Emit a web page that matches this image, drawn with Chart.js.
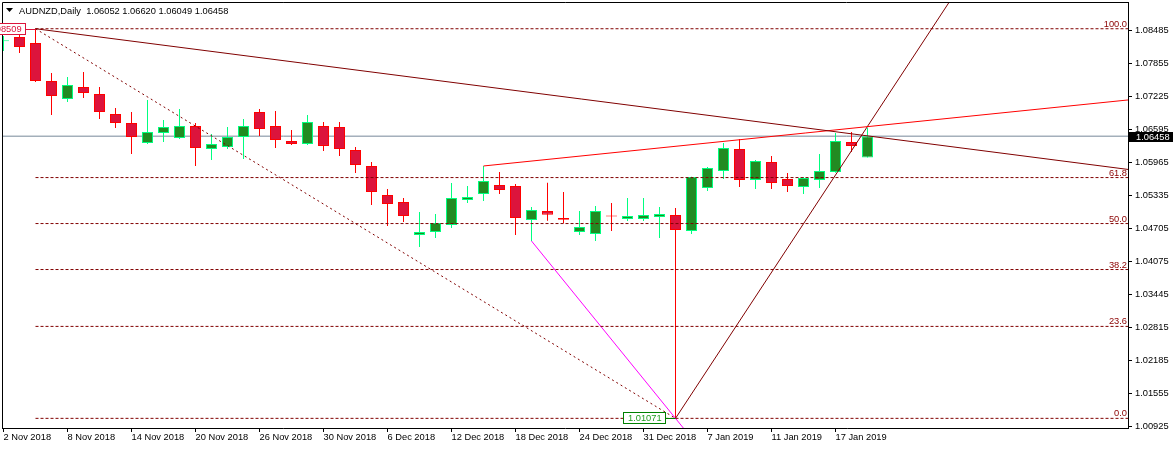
<!DOCTYPE html>
<html>
<head>
<meta charset="utf-8">
<title>AUDNZD,Daily</title>
<script src="https://cdn.jsdelivr.net/npm/chart.js@4.4.1/dist/chart.umd.min.js"></script>
<style>
html, body { margin: 0; padding: 0; background: #fff; }
#box-chart { width: 1175px; height: 449px; }
</style>
</head>
<body>
<div id="box-chart"><canvas id="CandleChart" width="1175" height="449"></canvas></div>
<script>
var symbolName = "AUDNZD,Daily";

// one bar per trading day
var dates = ["2 Nov 2018", "5 Nov 2018", "6 Nov 2018", "7 Nov 2018", "8 Nov 2018", "9 Nov 2018",
    "12 Nov 2018", "13 Nov 2018", "14 Nov 2018", "15 Nov 2018", "16 Nov 2018",
    "19 Nov 2018", "20 Nov 2018", "21 Nov 2018", "22 Nov 2018", "23 Nov 2018",
    "26 Nov 2018", "27 Nov 2018", "28 Nov 2018", "29 Nov 2018", "30 Nov 2018",
    "3 Dec 2018", "4 Dec 2018", "5 Dec 2018", "6 Dec 2018", "7 Dec 2018",
    "10 Dec 2018", "11 Dec 2018", "12 Dec 2018", "13 Dec 2018", "14 Dec 2018",
    "17 Dec 2018", "18 Dec 2018", "19 Dec 2018", "20 Dec 2018", "21 Dec 2018",
    "24 Dec 2018", "26 Dec 2018", "27 Dec 2018", "28 Dec 2018", "31 Dec 2018",
    "2 Jan 2019", "3 Jan 2019", "4 Jan 2019",
    "7 Jan 2019", "8 Jan 2019", "9 Jan 2019", "10 Jan 2019", "11 Jan 2019",
    "14 Jan 2019", "15 Jan 2019", "16 Jan 2019", "17 Jan 2019", "18 Jan 2019",
    "21 Jan 2019"];

var opens = [1.08270, 1.08351, 1.08237, 1.07511, 1.07168, 1.07397,
    1.07263, 1.06881, 1.06710, 1.06328, 1.06519,
    1.06423, 1.06652, 1.06213, 1.06251, 1.06442,
    1.06920, 1.06652, 1.06366, 1.06309, 1.06652,
    1.06633, 1.06194, 1.05889, 1.05335, 1.05201,
    1.04571, 1.04629, 1.04762, 1.05240, 1.05354,
    1.05526, 1.05507, 1.04858, 1.05030, 1.04896,
    1.04629, 1.04590, 1.04934, 1.04877, 1.04877,
    1.04915, 1.04953, 1.04648,
    1.05469, 1.05793, 1.06213, 1.05621, 1.05965,
    1.05640, 1.05488, 1.05621, 1.05774, 1.06347,
    1.06052];

var highs = [1.08370, 1.08390, 1.08509, 1.07664, 1.07588, 1.07683,
    1.07397, 1.06996, 1.06920, 1.07149, 1.06767,
    1.06977, 1.06710, 1.06500, 1.06633, 1.06786,
    1.06977, 1.06939, 1.06576, 1.06862, 1.06729,
    1.06729, 1.06251, 1.05965, 1.05450, 1.05278,
    1.05010, 1.04972, 1.05564, 1.05507, 1.05889,
    1.05774, 1.05545, 1.05106, 1.05570, 1.05392,
    1.05030, 1.05125, 1.05182, 1.05278, 1.05278,
    1.05106, 1.05087, 1.05685,
    1.05870, 1.06328, 1.06404, 1.06003, 1.06080,
    1.05755, 1.05679, 1.06118, 1.06519, 1.06538,
    1.06620];

var lows = [1.08084, 1.08046, 1.07492, 1.06862, 1.07110, 1.07187,
    1.06786, 1.06614, 1.06118, 1.06309, 1.06347,
    1.06404, 1.05889, 1.06003, 1.06213, 1.06022,
    1.06461, 1.06232, 1.06290, 1.06290, 1.06175,
    1.06080, 1.05755, 1.05144, 1.04743, 1.04820,
    1.04342, 1.04514, 1.04705, 1.05182, 1.05220,
    1.05354, 1.04571, 1.04457, 1.04844, 1.04795,
    1.04571, 1.04457, 1.04648, 1.04839, 1.04839,
    1.04514, 1.01071, 1.04590,
    1.05411, 1.05640, 1.05488, 1.05450, 1.05450,
    1.05392, 1.05354, 1.05469, 1.05760, 1.06156,
    1.06049];

var closes = [1.08280, 1.08160, 1.07511, 1.07225, 1.07435, 1.07282,
    1.06920, 1.06710, 1.06442, 1.06538, 1.06633,
    1.06652, 1.06232, 1.06309, 1.06442, 1.06652,
    1.06595, 1.06385, 1.06309, 1.06729, 1.06271,
    1.06213, 1.05908, 1.05392, 1.05163, 1.04934,
    1.04629, 1.04801, 1.05278, 1.05297, 1.05602,
    1.05430, 1.04896, 1.05049, 1.04959, 1.04863,
    1.04724, 1.05030, 1.04924, 1.04934, 1.04953,
    1.04972, 1.04667, 1.05679,
    1.05850, 1.06232, 1.05621, 1.05984, 1.05564,
    1.05507, 1.05660, 1.05793, 1.06366, 1.06271,
    1.06458];

var priceTicks = [1.00925, 1.01555, 1.02185, 1.02815, 1.03445, 1.04075, 1.04705,
    1.05335, 1.05965, 1.06595, 1.07225, 1.07855, 1.08485];
var dateTickBars = [0, 4, 8, 12, 16, 20, 24, 28, 32, 36, 40, 44, 48, 52];

// fibo retracement anchors [bar, price] and its levels
var fiboHigh = [2, 1.08509];
var fiboLow = [42, 1.01071];
var fiboLevels = [0.0, 23.6, 38.2, 50.0, 61.8, 100.0];

// trend lines, two anchors each [bar, price]
var trendDown = [[2, 1.08509], [53, 1.06503]];
var trendRed = [[30, 1.05889], [54, 1.06640]];
var trendUp = [[42, 1.01071], [54, 1.06645]];
var trendMagenta = [[33, 1.04457], [42, 1.01071]];

// visible window
var barMin = -0.09375, barMax = 70.28125;
var priceMin = 1.0088682, priceMax = 1.0901955;

var FONT_FAMILY = '"Liberation Sans", Arial, sans-serif';
var FONT_SIZE = 9.3;
var MAROON = '#800000';

Chart.defaults.font.family = FONT_FAMILY;
Chart.defaults.font.size = FONT_SIZE;
Chart.defaults.color = '#000';

function ray(a, b, xEnd) {
    var k = (b[1] - a[1]) / (b[0] - a[0]);
    return [{ x: a[0], y: a[1] }, { x: xEnd, y: a[1] + k * (xEnd - a[0]) }];
}

function lineSet(data, color, dash) {
    return {
        type: 'line',
        data: data,
        borderColor: color,
        borderWidth: 1,
        borderDash: dash || [],
        pointRadius: 0,
        fill: false,
        tension: 0,
        order: 1
    };
}

function fiboPrice(level) {
    return fiboLow[1] + (fiboHigh[1] - fiboLow[1]) * level / 100;
}

function priceTag(ctx, txt, ax, ay, border, textColor) {
    ctx.font = FONT_SIZE + 'px ' + FONT_FAMILY;
    var w = Math.round(ctx.measureText(txt).width) + 9;
    var right = Math.round(ax) - 10;
    var cy = Math.round(ay);
    ctx.fillStyle = '#fff';
    ctx.fillRect(right - w, cy - 6, w, 12);
    ctx.strokeStyle = border;
    ctx.lineWidth = 1;
    ctx.strokeRect(right - w + 0.5, cy - 5.5, w - 1, 11);
    ctx.beginPath();
    ctx.moveTo(right, cy + 0.5);
    ctx.lineTo(ax, cy + 0.5);
    ctx.stroke();
    ctx.fillStyle = textColor;
    ctx.textAlign = 'left';
    ctx.textBaseline = 'middle';
    ctx.fillText(txt, right - w + 5, cy + 0.5);
}

var overlayPlugin = {
    id: 'mtOverlay',
    afterDraw: function (chart) {
        var ctx = chart.ctx;
        var area = chart.chartArea;
        var xs = chart.scales.x;
        var ys = chart.scales.y;
        var last = closes.length - 1;
        ctx.save();

        // frame, left and top
        ctx.strokeStyle = '#000';
        ctx.lineWidth = 1;
        ctx.beginPath();
        ctx.moveTo(area.left + 0.5, area.bottom);
        ctx.lineTo(area.left + 0.5, area.top + 0.5);
        ctx.lineTo(area.right, area.top + 0.5);
        ctx.stroke();

        // header
        ctx.fillStyle = '#000';
        ctx.beginPath();
        ctx.moveTo(6, 8);
        ctx.lineTo(13, 8);
        ctx.lineTo(9.5, 12);
        ctx.closePath();
        ctx.fill();
        ctx.font = FONT_SIZE + 'px ' + FONT_FAMILY;
        ctx.textAlign = 'left';
        ctx.textBaseline = 'alphabetic';
        var head = symbolName + '  ' + opens[last].toFixed(5) + ' ' + highs[last].toFixed(5) + ' ' +
            lows[last].toFixed(5) + ' ' + closes[last].toFixed(5);
        ctx.fillText(head, 19, 14);

        // fibo level captions
        ctx.fillStyle = '#8b0000';
        ctx.textAlign = 'right';
        for (var i = 0; i < fiboLevels.length; i++) {
            var py = ys.getPixelForValue(fiboPrice(fiboLevels[i]));
            ctx.fillText(fiboLevels[i].toFixed(1), area.right - 1, py - 2);
        }

        // anchor price tags
        priceTag(ctx, fiboHigh[1].toFixed(5), xs.getPixelForValue(fiboHigh[0]),
            ys.getPixelForValue(fiboHigh[1]), '#dc143c', '#dc143c');
        priceTag(ctx, fiboLow[1].toFixed(5), xs.getPixelForValue(fiboLow[0]),
            ys.getPixelForValue(fiboLow[1]), '#008000', '#1f9e1f');

        // bid tag on the price scale
        var by = Math.round(ys.getPixelForValue(closes[last]));
        ctx.fillStyle = '#000';
        ctx.fillRect(area.right + 1, by - 4, 44, 10);
        ctx.fillStyle = '#fff';
        ctx.textAlign = 'left';
        ctx.textBaseline = 'middle';
        ctx.fillText(closes[last].toFixed(5), area.right + 8, by + 1);

        ctx.restore();
    }
};

function showCandleChart(canvasName) {
    var bodies = [], wicks = [], bodyFill = [], bodyLine = [], wickColor = [];
    for (var i = 0; i < dates.length; i++) {
        var up = closes[i] >= opens[i];
        bodies.push({ x: i, y: [opens[i], closes[i]] });
        wicks.push({ x: i, y: [lows[i], highs[i]] });
        bodyFill.push(up ? '#228b22' : '#dc143c');
        bodyLine.push(up ? '#00ff7f' : '#ff0000');
        wickColor.push(up ? '#00ff7f' : '#ff0000');
    }

    var datasets = [];
    datasets.push(lineSet([{ x: barMin, y: closes[closes.length - 1] }, { x: barMax, y: closes[closes.length - 1] }], '#778899'));
    datasets[0].order = 30;
    datasets.push({
        type: 'bar', data: wicks, backgroundColor: wickColor, barThickness: 1,
        grouped: false, inflateAmount: 0, borderWidth: 0, order: 20
    });
    datasets.push({
        type: 'bar', data: bodies, backgroundColor: bodyFill, borderColor: bodyLine,
        borderWidth: 1, borderSkipped: false, barThickness: 11, minBarLength: 1,
        grouped: false, inflateAmount: 0, order: 10
    });

    for (var j = 0; j < fiboLevels.length; j++) {
        var lv = fiboPrice(fiboLevels[j]);
        datasets.push(lineSet([{ x: fiboHigh[0], y: lv }, { x: barMax, y: lv }], MAROON, [3, 2]));
    }
    datasets.push(lineSet([{ x: fiboHigh[0], y: fiboHigh[1] }, { x: fiboLow[0], y: fiboLow[1] }], MAROON, [2, 3]));
    datasets.push(lineSet(ray(trendDown[0], trendDown[1], barMax), MAROON));
    datasets.push(lineSet(ray(trendRed[0], trendRed[1], barMax), '#ff0000'));
    datasets.push(lineSet(ray(trendUp[0], trendUp[1], barMax), MAROON));
    datasets.push(lineSet(ray(trendMagenta[0], trendMagenta[1], 44), '#ff00ff'));

    var ctx = document.getElementById(canvasName).getContext('2d');
    return new Chart(ctx, {
        type: 'bar',
        data: { datasets: datasets },
        options: {
            responsive: false,
            animation: false,
            devicePixelRatio: 1,
            layout: { padding: { left: 2, top: 2, right: 0, bottom: 0 } },
            plugins: { legend: { display: false }, tooltip: { enabled: false } },
            scales: {
                x: {
                    type: 'linear',
                    min: barMin,
                    max: barMax,
                    offset: false,
                    afterBuildTicks: function (s) {
                        s.ticks = dateTickBars.map(function (v) { return { value: v }; });
                    },
                    afterFit: function (s) {
                        s.height = 21;
                        s.paddingLeft = 0;
                        s.paddingRight = 0;
                    },
                    grid: { display: true, offset: false, drawOnChartArea: false, drawTicks: true, tickLength: 4, color: '#000' },
                    border: { display: true, color: '#000' },
                    ticks: {
                        autoSkip: false, maxRotation: 0, minRotation: 0, align: 'start', padding: 0,
                        callback: function (v) { return dates[v]; }
                    }
                },
                y: {
                    type: 'linear',
                    position: 'right',
                    min: priceMin,
                    max: priceMax,
                    afterBuildTicks: function (s) {
                        s.ticks = priceTicks.map(function (v) { return { value: v }; });
                    },
                    afterFit: function (s) {
                        s.width = 47;
                        s.paddingTop = 0;
                        s.paddingBottom = 0;
                    },
                    grid: { display: true, drawOnChartArea: false, drawTicks: true, tickLength: 4, color: '#000' },
                    border: { display: true, color: '#000' },
                    ticks: {
                        padding: 3,
                        callback: function (v) { return v.toFixed(5); }
                    }
                }
            }
        },
        plugins: [overlayPlugin]
    });
}

showCandleChart("CandleChart");
</script>
</body>
</html>
